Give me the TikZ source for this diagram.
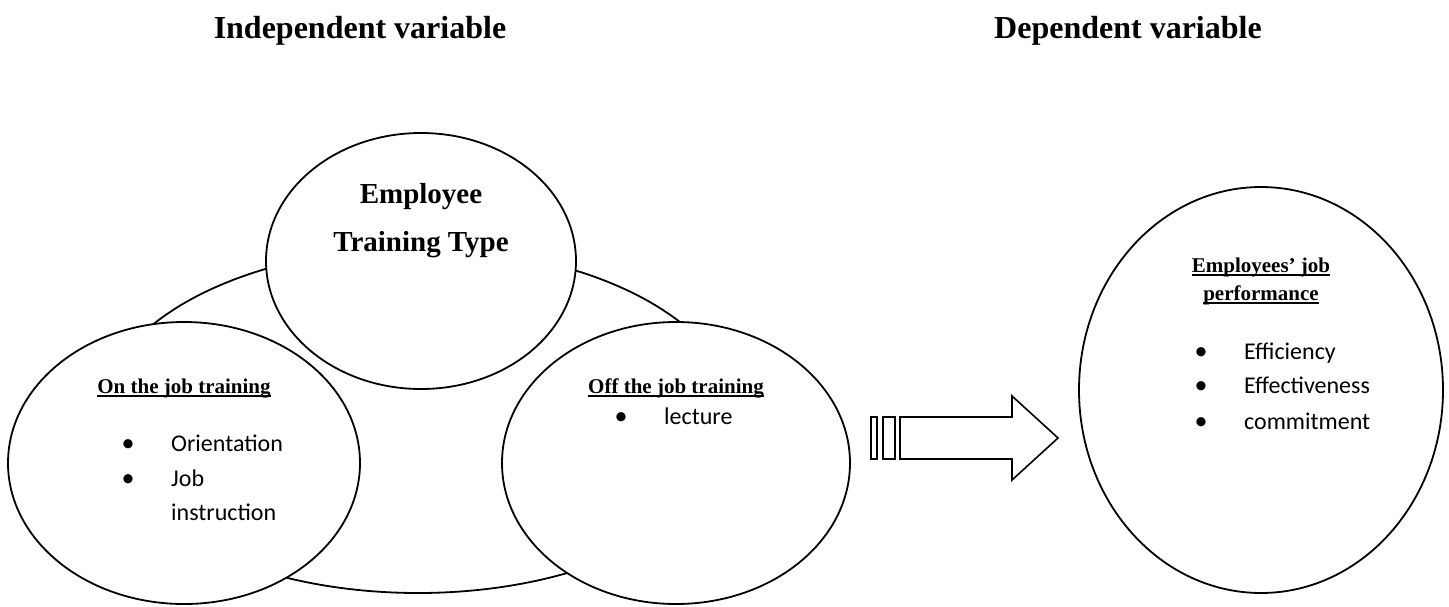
\documentclass[tikz,border=0pt]{standalone}
\usepackage{fontspec}
\setmainfont{Liberation Serif}
\newfontfamily\calib{Carlito}
\usetikzlibrary{shapes.geometric}
\newcommand{\myul}[1]{\setbox0\hbox{#1}\rlap{\rule[-3.5pt]{\wd0}{1.6pt}}\box0}
\tikzset{
  ell/.style={draw, line width=1.8pt, fill=white, ellipse, inner sep=0pt},
  ttl/.style={anchor=base, inner sep=0pt, font=\fontsize{32}{38}\selectfont\bfseries},
  head/.style={anchor=base, inner sep=0pt, font=\fontsize{29}{35}\selectfont\bfseries},
  sub/.style={anchor=base, inner sep=0pt, font=\fontsize{21}{25}\selectfont\bfseries},
  bul/.style={anchor=base, inner sep=0pt, font=\fontsize{26}{29}\calib},
  itm/.style={anchor=base west, inner sep=0pt, font=\fontsize{24}{29}\calib},
  blk/.style={draw, line width=1.6pt, fill=white, line join=miter}
}
\begin{document}
\begin{tikzpicture}[x=1pt, y=-1pt]
\useasboundingbox (0,0) rectangle (1449,606);
% titles
\node[ttl] (indep) at (360,38) {Independent variable};
\node[ttl] (dep) at (1128,38) {Dependent variable};
% background ellipse
\node[ell, minimum width=638pt, minimum height=345pt] (big) at (418,420.5) {};
% top ellipse
\node[ell, minimum width=310pt, minimum height=256pt] (top) at (421,261) {};
\node[head] (t1) at (421,203) {Employee};
\node[head] (t2) at (421,251) {Training Type};
% left ellipse
\node[ell, minimum width=352pt, minimum height=282pt] (left) at (184,463) {};
\node[sub] (lh) at (184,393) {\myul{On the job training}};
\node[bul] (lb1) at (128,451) {•};
\node[itm] (li1) at (171,451) {Orientation};
\node[bul] (lb2) at (128,486) {•};
\node[itm] (li2) at (171,486) {Job};
\node[itm] (li3) at (171,520) {instruction};
% right ellipse
\node[ell, minimum width=348pt, minimum height=282pt] (right) at (676,463) {};
\node[sub] (rh) at (676,393) {\myul{Off the job training}};
\node[bul] (rb1) at (621,424) {•};
\node[itm] (ri1) at (664,424) {lecture};
% block arrow
\draw[blk] (871,417) rectangle (877,459);
\draw[blk] (883,417) rectangle (895,459);
\draw[blk] (900,417) -- (1012,417) -- (1012,396) -- (1058,438) -- (1012,480) -- (1012,459) -- (900,459) -- cycle;
% dependent ellipse
\node[ell, minimum width=364pt, minimum height=406pt] (dv) at (1261,390) {};
\node[sub] (dh1) at (1261,272) {\myul{Employees’ job}};
\node[sub] (dh2) at (1261,300) {\myul{performance}};
\node[bul] (db1) at (1201,359) {•};
\node[itm] (di1) at (1244,359) {Efficiency};
\node[bul] (db2) at (1201,393) {•};
\node[itm] (di2) at (1244,393) {Effectiveness};
\node[bul] (db3) at (1201,429) {•};
\node[itm] (di3) at (1244,429) {commitment};
\end{tikzpicture}
\end{document}
